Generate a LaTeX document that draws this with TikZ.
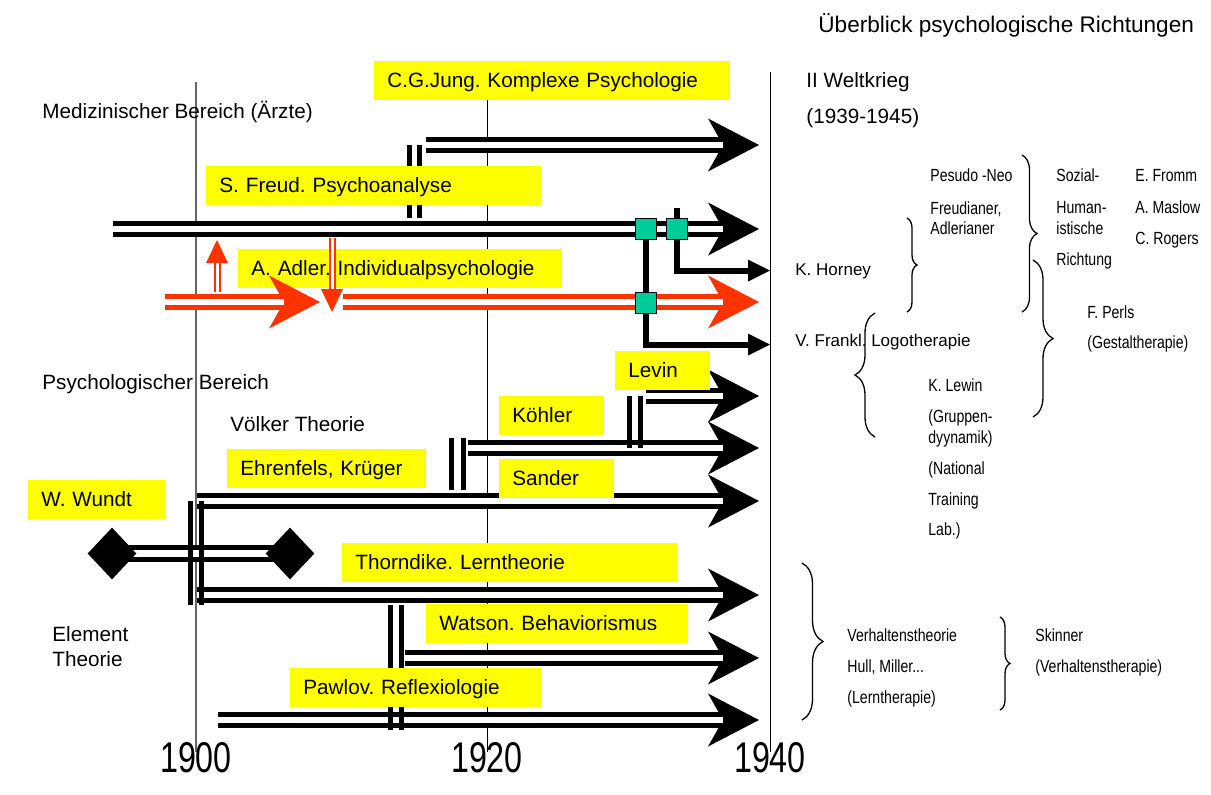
\documentclass[tikz,border=0pt]{standalone}
\usepackage{fontspec}
\setmainfont{Liberation Sans}
\newfontfamily\slimfont[FakeStretch=0.8]{Liberation Sans}
\newfontfamily\yearfont[FakeStretch=0.75]{Liberation Sans}
\usepackage{tikz}
\usetikzlibrary{arrows.meta, shapes.geometric, decorations.pathreplacing}
\definecolor{mark}{RGB}{255,255,0}
\definecolor{adler}{RGB}{255,51,0}
\definecolor{knot}{RGB}{0,204,153}
\frenchspacing

\begin{document}
\begin{tikzpicture}[
  x=0.5pt, y=-0.5pt,
  every node/.style={inner sep=0pt, text height=.72em, text depth=0pt, anchor=west},
  lbl/.style={font=\fontsize{10.35}{12}\selectfont},
  mid/.style={font=\fontsize{8.5}{10}\selectfont},
  sml/.style={font=\slimfont\fontsize{8.8}{10}\selectfont},
  ttl/.style={font=\fontsize{11.3}{13}\selectfont},
  yr/.style={font=\yearfont\fontsize{21.5}{24}\selectfont, anchor=north},
  ybox/.style={lbl, fill=mark, minimum height=19.5pt, inner xsep=6.5pt,
               text width=#1, align=left},
  bar/.style={draw=#1, line width=8pt,
              -{Stealth[length=25.5pt, width=26.5pt, inset=7.5pt, line width=0pt]},
              postaction={draw=white, line width=3pt, -, shorten >=18pt}},
  bar/.default=black,
  dbl/.style={line width=2.5pt, double=white, double distance=3.5pt},
  brk/.style={line width=2.5pt},
  rup/.style={draw=adler, line width=3.5pt,
              -{Triangle[length=11.5pt, width=11pt, line width=0pt]},
              postaction={draw=white, line width=1.5pt, -, shorten >=11.5pt}},
  conn/.style={line width=3pt, -{Triangle[length=11pt, width=11pt, line width=0pt]}},
  sq/.style={rectangle, draw, line width=0.5pt, fill=knot, minimum size=10.5pt,
             text height=0pt, anchor=center},
  dmd/.style={diamond, fill=black, minimum width=24.5pt, minimum height=26pt,
              text height=0pt, anchor=center},
  brc/.style={decorate, decoration={brace, amplitude=#1}, line width=0.65pt},
]
\useasboundingbox (0,0) rectangle (1211,794);

% time axis
\draw[black!60, line width=0.75pt] (196,82) -- (196,752);
\draw[line width=0.5pt] (487,100) -- (487,752);
\draw[line width=0.6pt] (770.5,72) -- (770.5,752);
\node[yr] (y1900) at (196,758) {1900};
\node[yr] (y1920) at (487,758) {1920};
\node[yr] (y1940) at (770,758) {1940};

% schools
\draw[bar] (426,145) -- (759,145);
\draw[bar] (113,229) -- (759,229);
\draw[bar] (646,396) -- (759,396);
\draw[bar] (468,448) -- (759,448);
\draw[bar] (197,501) -- (759,501);
\draw[bar] (197,595) -- (759,595);
\draw[bar] (405,658) -- (759,658);
\draw[bar] (218,720) -- (759,720);

% Wundt
\coordinate (wA) at (112,553.5);
\coordinate (wB) at (290,553.5);
\draw[dbl] (wA) -- (wB);
\node[dmd] (dA) at (wA) {};
\node[dmd] (dB) at (wB) {};

% breaks
\foreach \x in {409.5,419.5} \draw[brk] (\x,145) -- (\x,218);
\foreach \x in {629.5,640.5} \draw[brk] (\x,396) -- (\x,448);
\foreach \x in {451.5,463} \draw[brk] (\x,438) -- (\x,490);
\foreach \x in {190.5,201.5} \draw[brk] (\x,501) -- (\x,605);
\foreach \x in {390.5,401} \draw[brk] (\x,605) -- (\x,730);

% names
\node[ybox=165pt] (jung) at (374,80.5) {C.G.Jung. Komplexe Psychologie};
\node[ybox=154.5pt] (freud) at (206,185.5) {S. Freud. Psychoanalyse};
\node[ybox=149pt] (adler) at (238,268.5) {A. Adler. Individualpsychologie};
\node[ybox=34.5pt] (levin) at (615,370) {Levin};
\node[ybox=39.5pt] (koehler) at (499,415) {Köhler};
\node[ybox=44.5pt] (sander) at (499,478) {Sander};
\node[ybox=86.5pt] (ehrenfels) at (227,468) {Ehrenfels, Krüger};
\node[ybox=55.5pt] (wundt) at (28,499) {W. Wundt};
\node[ybox=154.5pt] (thorndike) at (342,562) {Thorndike. Lerntheorie};
\node[ybox=118pt] (watson) at (426,623.5) {Watson. Behaviorismus};
\node[ybox=112.5pt] (pawlov) at (290,687) {Pawlov. Reflexiologie};

% Adler
\draw[bar=adler] (165,302) -- (320,302);
\draw[bar=adler] (343,302) -- (759,302);
\draw[rup] (217,292) -- (217,240);
\draw[rup] (332,238) -- (332,312);

% splits
\coordinate (cA) at (645.5,229);
\coordinate (cB) at (676.5,229);
\coordinate (cC) at (645.5,302.5);
\coordinate (cBtop) at (676.5,208);
\coordinate (toHorney) at (770,270.5);
\coordinate (toFrankl) at (770,344.5);
\draw[conn] (cA) |- (toFrankl);
\draw[conn] (cBtop) -- (cB) |- (toHorney);
\node[sq] (sqA) at (cA) {};
\node[sq] (sqB) at (cB) {};
\node[sq] (sqC) at (cC) {};

% labels
\node[ttl] (title) at (818,25) {Überblick psychologische Richtungen};
\node[lbl] (war) at (806,80.5) {II Weltkrieg};
\node[lbl] (waryears) at (806,116) {(1939-1945)};
\node[lbl] (med) at (42,111.5) {Medizinischer Bereich (Ärzte)};
\node[lbl] (psy) at (42,382.5) {Psychologischer Bereich};
\node[lbl] (voelker) at (230,424.5) {Völker Theorie};
\node[lbl] (elem) at (52,634) {Element};
\node[lbl] (elemB) at (52,659) {Theorie};
\node[mid] (horney) at (795,268) {K. Horney};
\node[mid] (frankl) at (795,339) {V. Frankl. Logotherapie};

\foreach \txt/\px/\py in {{Pesudo -Neo}/930/174, {Freudianer,}/930/207, {Adlerianer}/930/227,
    {Sozial-}/1056/174, {Human-}/1056/206, {istische}/1056/227, {Richtung}/1056/258,
    {E. Fromm}/1135/174, {A. Maslow}/1135/206, {C. Rogers}/1135/237,
    {F. Perls}/1087/311, {(Gestaltherapie)}/1087/341,
    {K. Lewin}/928/384, {(Gruppen-}/928/415, {dyynamik)}/928/436,
    {(National}/928/467, {Training}/928/498, {Lab.)}/928/528,
    {Verhaltenstheorie}/847/634, {Hull, Miller...}/847/665, {(Lerntherapie)}/847/696,
    {Skinner}/1035/634, {(Verhaltenstherapie)}/1035/665}
  \node[sml] at (\px,\py) {\txt};

% braces
\draw[brc=5pt] (907,218) -- (907,312);
\draw[brc=7.5pt] (1022,155) -- (1022,312);
\draw[brc=10pt] (1033,260) -- (1033,417);
\draw[brc=10pt] (875,437) -- (875,313);
\draw[brc=10.5pt] (802,563) -- (802,720);
\draw[brc=5pt] (1000,617) -- (1000,710);
\end{tikzpicture}
\end{document}
